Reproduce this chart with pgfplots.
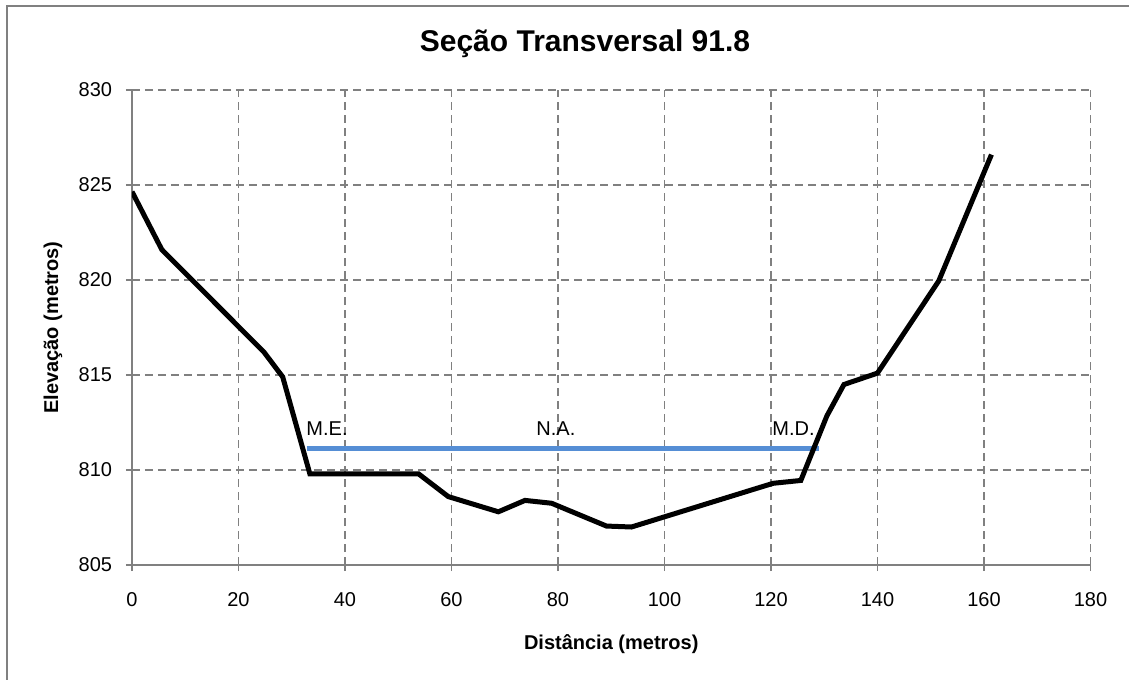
\documentclass[border=0pt]{standalone}
\usepackage{fontspec}
\setmainfont{Liberation Sans}
\usepackage{pgfplots}
\pgfplotsset{compat=1.18}

\definecolor{gridgray}{RGB}{128,128,128}
\definecolor{waterblue}{RGB}{85,142,213}

\begin{document}
\begin{tikzpicture}
  % page = 1129 x 679 px at 0.6pt per px
  \useasboundingbox (-79.2pt,-68.4pt) rectangle (598.2pt,339pt);
  \draw[gridgray, line width=0.9pt] (-75pt,-100pt) rectangle (650pt,335.4pt);
  \begin{axis}[
    scale only axis,
    width=575.1pt,
    height=285pt,
    xmin=0, xmax=180,
    ymin=805, ymax=830,
    xtick={0,20,...,180},
    ytick={805,810,...,830},
    axis lines=left,
    axis line style={-, gridgray, line width=1pt},
    tick align=outside,
    major tick length=3.6pt,
    tick style={gridgray, line width=1pt},
    grid=major,
    major grid style={gridgray, line width=1pt, dash pattern=on 4.8pt off 3pt},
    /pgf/number format/assume math mode=true,
    /pgf/number format/1000 sep={},
    tick label style={font=\fontsize{12}{14}\selectfont},
    yticklabel style={xshift=-4.8pt},
    xticklabel style={yshift=-9.6pt},
    title={Seção Transversal 91.8},
    title style={font=\fontsize{18}{21}\selectfont\bfseries,
      at={(axis description cs:0.4726,1.0757)}, anchor=center},
    xlabel={Distância (metros)},
    xlabel style={font=\fontsize{12}{14}\selectfont\bfseries,
      at={(axis description cs:0.5,-0.166)}, anchor=center},
    ylabel={Elevação (metros)},
    ylabel style={font=\fontsize{12}{14}\selectfont\bfseries,
      at={(axis description cs:-0.0825,0.5)}, anchor=center},
  ]
    % water level
    \addplot[waterblue, line width=3pt] coordinates {
      (32.8,811.14) (129.1,811.14)
    };
    % cross-section profile
    \addplot[black, line width=3pt, line join=miter] coordinates {
      (0,824.65)
      (5.6,821.6)
      (24.8,816.2)
      (28.3,814.9)
      (33.4,809.8)
      (53.8,809.8)
      (59.4,808.6)
      (68.8,807.8)
      (73.8,808.4)
      (78.8,808.25)
      (89.1,807.05)
      (93.8,807.0)
      (120.4,809.3)
      (125.6,809.45)
      (130.5,812.85)
      (133.7,814.5)
      (140.0,815.1)
      (151.5,819.95)
      (161.4,826.6)
    };
    \node[anchor=west, inner sep=0pt, font=\fontsize{12}{14}\selectfont] at (axis cs:32.7,812.2) {M.E.};
    \node[inner sep=0pt, font=\fontsize{12}{14}\selectfont] at (axis cs:79.6,812.2) {N.A.};
    \node[anchor=west, inner sep=0pt, font=\fontsize{12}{14}\selectfont] at (axis cs:120.2,812.2) {M.D.};
  \end{axis}
\end{tikzpicture}
\end{document}
